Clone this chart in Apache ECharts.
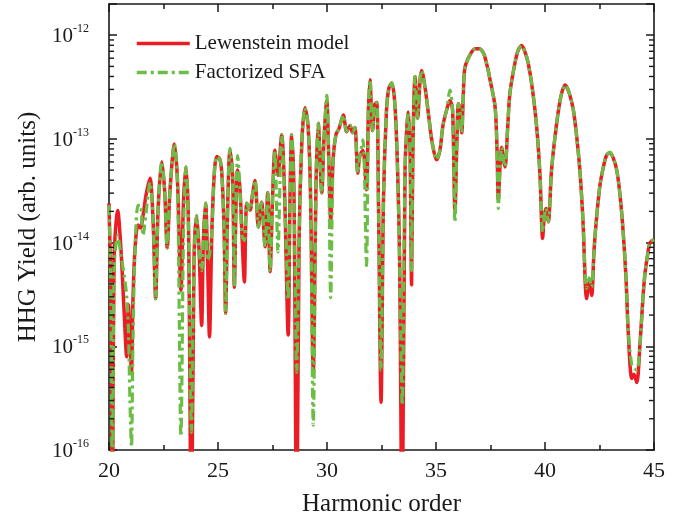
<!DOCTYPE html>
<html><head><meta charset="utf-8">
<script src="https://cdn.jsdelivr.net/npm/echarts@6/dist/echarts.min.js"></script>
<style>html,body{margin:0;padding:0;background:#fff}#c{width:688px;height:528px}</style>
</head><body><div id="c"></div>
<script>
// Harmonic order (x) values
const harmonics = [
20.00,20.09,20.16,20.23,20.40,20.55,20.69,20.81,20.89,20.96,
21.03,21.10,21.19,21.33,21.44,21.56,21.70,21.88,22.02,22.14,
22.25,22.42,22.55,22.67,22.80,23.00,23.14,23.30,23.42,23.53,
23.65,23.78,23.90,24.02,24.13,24.25,24.33,24.43,24.52,24.61,
24.72,24.84,24.95,25.09,25.18,25.28,25.35,25.44,25.55,25.67,
25.75,25.83,25.90,26.01,26.10,26.21,26.32,26.47,26.58,26.70,
26.85,27.00,27.16,27.28,27.39,27.50,27.61,27.75,27.92,28.05,
28.22,28.30,28.38,28.49,28.61,28.72,28.85,28.99,29.13,29.24,
29.37,29.50,29.60,29.76,29.86,29.99,30.07,30.17,30.28,30.41,
30.55,30.75,30.90,31.06,31.17,31.28,31.41,31.51,31.65,31.81,
31.90,31.97,32.09,32.18,32.28,32.36,32.48,32.59,32.73,32.84,
32.97,33.10,33.21,33.33,33.45,33.58,33.73,33.81,33.88,33.94,
34.04,34.16,34.27,34.34,34.50,34.66,34.82,35.03,35.18,35.32,
35.49,35.64,35.76,35.87,35.96,36.03,36.10,36.18,36.26,36.33,
36.56,36.79,36.97,37.17,37.34,37.48,37.71,37.80,37.86,37.94,
38.01,38.09,38.17,38.28,38.39,38.62,38.78,38.93,39.08,39.23,
39.43,39.62,39.77,39.89,39.97,40.05,40.15,40.30,40.46,40.69,
40.92,41.10,41.30,41.47,41.61,41.74,41.91,42.03,42.14,42.25,
42.37,42.52,42.67,42.82,42.98,43.14,43.29,43.44,43.59,43.72,
43.82,43.98,44.08,44.21,44.36,44.50,44.59,44.72,44.82,45.00];

// log10 of HHG yield, Lewenstein model
const lewensteinLog10 = [
-13.62,-14.55,-17,-14.17,-13.69,-14.07,-14.65,-15.10,-14.60,-14.89,
-15.25,-14.55,-14.07,-13.83,-13.86,-13.74,-13.54,-13.38,-13.78,-14.54,
-13.69,-13.22,-13.49,-14.05,-13.49,-13.05,-13.40,-14.46,-13.59,-13.27,
-13.88,-17,-14.17,-13.74,-14.07,-14.80,-13.98,-13.62,-14.17,-14.91,
-13.88,-13.30,-13.17,-13.20,-13.35,-13.88,-14.68,-13.69,-13.11,-13.35,
-14.43,-13.59,-13.30,-13.49,-13.93,-14.38,-13.62,-13.69,-13.54,-13.40,
-13.85,-13.61,-14.04,-13.52,-14.28,-13.59,-13.11,-13.35,-12.96,-13.49,
-14.89,-13.59,-12.96,-13.59,-17,-13.98,-13.01,-12.70,-12.87,-13.49,
-15.23,-13.40,-12.85,-13.52,-13.01,-12.63,-13.11,-13.78,-13.20,-12.96,
-12.90,-12.77,-12.93,-12.87,-12.94,-12.89,-13.33,-13.16,-13.11,-13.49,
-12.72,-12.43,-12.92,-12.67,-12.65,-13.59,-15.54,-13.59,-12.72,-12.51,
-12.46,-12.63,-13.11,-14.17,-17,-13.30,-12.74,-13.11,-14.41,-13.11,
-12.40,-12.80,-12.43,-12.34,-12.51,-12.77,-13.03,-13.20,-13.11,-12.87,
-12.72,-12.63,-12.72,-13.69,-13.01,-12.66,-12.72,-12.94,-12.53,-12.31,
-12.19,-12.13,-12.13,-12.17,-12.29,-12.43,-12.69,-13.11,-13.59,-13.25,
-13.08,-13.20,-13.27,-12.92,-12.56,-12.27,-12.14,-12.10,-12.16,-12.27,
-12.53,-12.89,-13.35,-13.96,-13.74,-13.67,-13.80,-13.30,-12.98,-12.63,
-12.48,-12.55,-12.72,-13.01,-13.33,-13.78,-14.54,-14.38,-14.51,-14.07,
-13.75,-13.45,-13.28,-13.16,-13.13,-13.19,-13.30,-13.54,-13.91,-14.36,
-14.87,-15.31,-15.27,-15.35,-14.97,-14.51,-14.29,-14.10,-14.00,-13.97];

// log10 of HHG yield, Factorized SFA
const factorizedLog10 = [
-13.64,-14.55,-17,-14.27,-13.93,-14.12,-14.31,-14.51,-14.84,-15.52,
-15.97,-14.94,-14.10,-13.64,-13.64,-13.93,-13.71,-13.42,-13.78,-14.54,
-13.69,-13.22,-13.49,-14.05,-13.49,-13.05,-13.40,-15.87,-13.88,-13.27,
-13.88,-15.83,-14.17,-13.74,-14.07,-14.27,-13.98,-13.62,-14.17,-14.12,
-13.88,-13.30,-13.17,-13.20,-13.35,-13.88,-14.68,-13.69,-13.09,-13.35,
-14.43,-13.59,-13.16,-13.49,-13.93,-13.98,-13.62,-13.69,-13.54,-13.40,
-13.85,-13.61,-14.04,-13.52,-14.28,-13.59,-13.11,-14.09,-12.96,-13.49,
-14.55,-13.59,-12.96,-13.59,-15.25,-13.98,-13.01,-12.70,-12.87,-13.49,
-15.76,-13.40,-12.85,-13.52,-13.01,-12.58,-13.11,-14.53,-13.20,-12.96,
-12.90,-12.77,-12.93,-12.87,-12.94,-12.89,-13.33,-13.16,-13.01,-14.22,
-12.72,-12.43,-12.92,-12.67,-12.65,-13.59,-15.23,-13.59,-12.72,-12.51,
-12.46,-12.63,-13.11,-14.17,-15.57,-13.30,-12.74,-13.11,-14.27,-13.11,
-12.40,-12.80,-12.43,-12.34,-12.51,-12.77,-13.03,-13.20,-13.11,-12.87,
-12.72,-12.53,-12.72,-13.80,-13.01,-12.66,-12.72,-12.94,-12.53,-12.31,
-12.19,-12.13,-12.13,-12.17,-12.29,-12.43,-12.69,-13.11,-13.67,-13.25,
-13.08,-13.20,-13.27,-12.92,-12.56,-12.27,-12.14,-12.10,-12.16,-12.27,
-12.53,-12.89,-13.35,-13.90,-13.74,-13.67,-13.80,-13.30,-12.98,-12.63,
-12.48,-12.55,-12.72,-13.01,-13.33,-13.78,-14.44,-14.34,-14.43,-14.07,
-13.75,-13.45,-13.28,-13.16,-13.13,-13.19,-13.30,-13.54,-13.91,-14.36,
-14.87,-15.18,-15.21,-15.23,-14.97,-14.51,-14.29,-14.10,-14.00,-13.97];

const seriesNames = ['Lewenstein model', 'Factorized SFA'];
const xTickValues = [20, 25, 30, 35, 40, 45];
const yDecadeExponents = [-16, -15, -14, -13, -12];

const FONT = 'Liberation Serif';
const INK = '#1a1a1a';
const RED = '#ec1c24';
const GREEN = '#6cbd45';
const GREEN_DASH = [10, 4, 3, 4];

const redData = harmonics.map((h, i) => [h, Math.pow(10, lewensteinLog10[i])]);
const greenData = harmonics.map((h, i) => [h, Math.pow(10, factorizedLog10[i])]);

// minor tick positions for the log axis (2..9 x 10^n)
const minorTickValues = [];
yDecadeExponents.slice(0, -1).forEach(e => {
  for (let k = 2; k <= 9; k++) minorTickValues.push([20, k * Math.pow(10, e)]);
});

function yLabel(v) {
  const e = Math.log10(v);
  const r = Math.round(e);
  if (Math.abs(e - r) > 1e-6 || yDecadeExponents.indexOf(r) < 0) return '';
  return '{b|10}{s|' + r + '}';
}

const chart = echarts.init(document.getElementById('c'), null, {renderer: 'canvas'});
const axisLine = {show: true, onZero: false, lineStyle: {color: INK, width: 1.6}};
chart.setOption({
  animation: false,
  backgroundColor: '#fff',
  grid: {left: 109, right: 34, top: 4, bottom: 78, containLabel: false},
  legend: {
    data: [
      {name: seriesNames[0], itemStyle: {opacity: 0}, lineStyle: {color: RED, width: 3.5}},
      {name: seriesNames[1], itemStyle: {opacity: 0}, lineStyle: {color: GREEN, width: 3.5, type: GREEN_DASH}}
    ],
    orient: 'vertical', left: 130, top: 28,
    itemWidth: 53, itemHeight: 12, itemGap: 8,
    textStyle: {fontFamily: FONT, fontSize: 21, color: INK}
  },
  xAxis: [{
    type: 'value', min: 20, max: 45, interval: 5, position: 'bottom',
    name: 'Harmonic order', nameLocation: 'middle', nameGap: 42,
    nameTextStyle: {fontFamily: FONT, fontSize: 25, color: INK},
    axisLine: axisLine,
    axisTick: {inside: true, length: 8, lineStyle: {color: INK, width: 1.5}},
    minorTick: {show: true, splitNumber: 2, length: 5, lineStyle: {color: INK, width: 1.5}},
    axisLabel: {fontFamily: FONT, fontSize: 22, color: INK, margin: 10},
    splitLine: {show: false}
  }, {
    type: 'value', min: 20, max: 45, interval: 5, position: 'top',
    axisLine: axisLine,
    axisTick: {inside: true, length: 8, lineStyle: {color: INK, width: 1.5}},
    minorTick: {show: true, splitNumber: 2, length: 5, lineStyle: {color: INK, width: 1.5}},
    axisLabel: {show: false}, splitLine: {show: false}
  }],
  yAxis: [{
    type: 'log', logBase: 10, min: 1e-16, max: 2e-12, position: 'left',
    name: 'HHG Yield (arb. units)', nameLocation: 'middle', nameGap: 67, nameRotate: 90,
    nameTextStyle: {fontFamily: FONT, fontSize: 25, color: INK},
    axisLine: axisLine,
    axisTick: {inside: true, length: 8, lineStyle: {color: INK, width: 1.5}},
    axisLabel: {
      margin: 20, formatter: yLabel,
      rich: {
        b: {fontFamily: FONT, fontSize: 21, color: INK, lineHeight: 24, verticalAlign: 'bottom'},
        s: {fontFamily: FONT, fontSize: 12, color: INK, lineHeight: 24, verticalAlign: 'top'}
      }
    },
    splitLine: {show: false}
  }, {
    type: 'log', logBase: 10, min: 1e-16, max: 2e-12, position: 'right',
    axisLine: axisLine,
    axisTick: {inside: true, length: 8, lineStyle: {color: INK, width: 1.5}},
    axisLabel: {show: false}, splitLine: {show: false}
  }],
  series: [{
    name: seriesNames[0], type: 'line', xAxisIndex: 0, yAxisIndex: 0,
    data: redData, symbol: 'none', smooth: 0.3, z: 3,
    lineStyle: {color: RED, width: 3.5}, itemStyle: {color: RED}
  }, {
    name: seriesNames[1], type: 'line', xAxisIndex: 0, yAxisIndex: 0,
    data: greenData, symbol: 'none', smooth: 0.3, z: 4,
    lineStyle: {color: GREEN, width: 3.2, type: GREEN_DASH}, itemStyle: {color: GREEN}
  }, {
    type: 'custom', xAxisIndex: 0, yAxisIndex: 0, silent: true, clip: false, z: 5,
    data: minorTickValues,
    renderItem: function (params, api) {
      const v = api.value(1);
      const pl = api.coord([20, v]);
      const pr = api.coord([45, v]);
      return {type: 'group', children: [
        {type: 'line', shape: {x1: pl[0], y1: pl[1], x2: pl[0] + 5, y2: pl[1]}, style: {stroke: INK, lineWidth: 1.4}},
        {type: 'line', shape: {x1: pr[0], y1: pr[1], x2: pr[0] - 5, y2: pr[1]}, style: {stroke: INK, lineWidth: 1.4}}
      ]};
    }
  }]
});
</script></body></html>
